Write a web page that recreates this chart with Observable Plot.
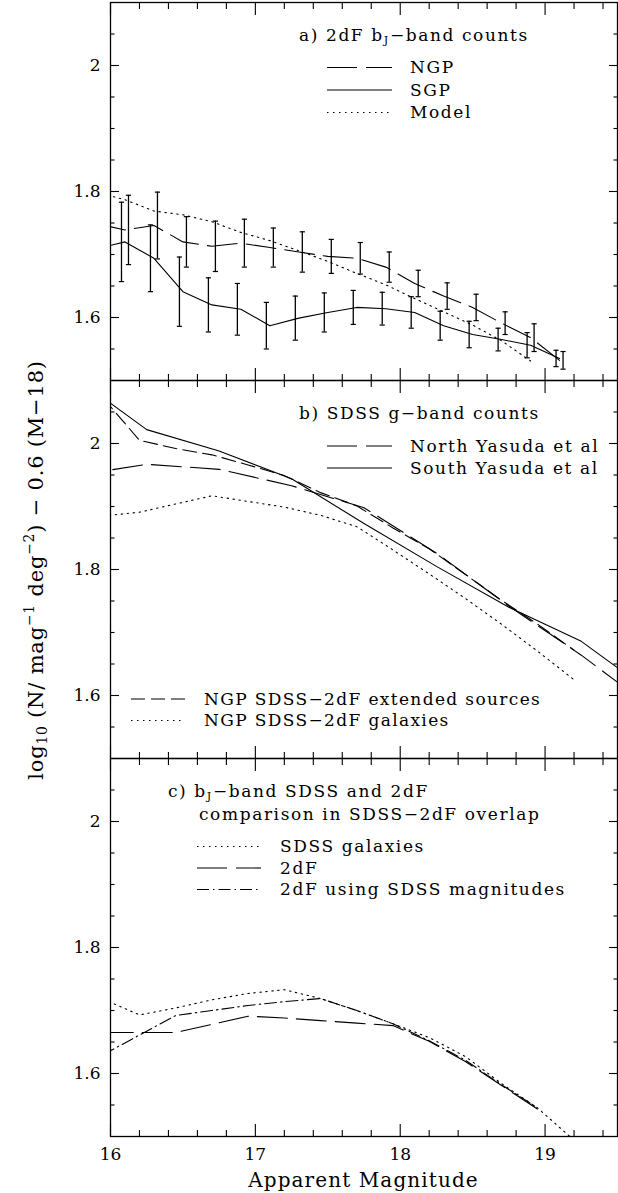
<!DOCTYPE html>
<html>
<head>
<meta charset="utf-8">
<script src="https://cdn.jsdelivr.net/npm/d3@7"></script>
<script src="https://cdn.jsdelivr.net/npm/@observablehq/plot@0.6"></script>
<style>
  html, body { margin: 0; padding: 0; background: #fff; }
  #chart svg { display: block; }
</style>
</head>
<body>
<div id="chart"></div>
<script>
// ---------- Axis ticks ----------
const xMajor = [16, 17, 18, 19];
const xTickLabels = ["16", "17", "18", "19"];
const xMinor = [16.2, 16.4, 16.6, 16.8, 17.2, 17.4, 17.6, 17.8, 18.2, 18.4, 18.6, 18.8, 19.2, 19.4];
const yMajor = [1.6, 1.8, 2.0];
const yTickLabels = ["1.6", "1.8", "2"];
const yMinor = [1.55, 1.65, 1.7, 1.75, 1.85, 1.9, 1.95, 2.05];

// ---------- Panel a: 2dF bJ-band counts ----------
const binsA   = [15.9, 16.1, 16.3, 16.5, 16.7, 16.9, 17.1, 17.3, 17.5, 17.7, 17.9, 18.1, 18.3, 18.5, 18.7, 18.9, 19.1];
const ngpA    = [1.749, 1.739, 1.746, 1.720, 1.713, 1.718, 1.711, 1.704, 1.697, 1.694, 1.680, 1.654, 1.634, 1.616, 1.591, 1.568, 1.532];
const ngpErrA = [null, 0.055, 0.053, 0.040, 0.040, 0.038, 0.031, 0.032, 0.027, 0.025, 0.024, 0.021, 0.021, 0.021, 0.018, 0.022, 0.014];
const sgpA    = [1.709, 1.720, 1.694, 1.641, 1.620, 1.613, 1.587, 1.599, 1.608, 1.616, 1.614, 1.608, 1.587, 1.573, 1.565, 1.556, 1.535];
const sgpErrA = [null, 0.063, 0.053, 0.055, 0.043, 0.041, 0.037, 0.035, 0.031, 0.027, 0.026, 0.025, 0.023, 0.021, 0.018, 0.020, 0.013];
const modelBinsA = [15.9, 16.1, 16.3, 16.5, 16.7, 16.9, 17.1, 17.3, 17.5, 17.7, 17.9, 18.1, 18.3, 18.5, 18.7, 18.9];
const modelA     = [1.799, 1.787, 1.769, 1.763, 1.752, 1.735, 1.722, 1.706, 1.689, 1.670, 1.652, 1.630, 1.609, 1.588, 1.563, 1.531];

// ---------- Panel b: SDSS g-band counts ----------
const binsYasuda  = [15.75, 16.25, 16.75, 17.25, 17.75, 18.25, 18.75, 19.25, 19.75];
const northYasuda = [1.949, 1.967, 1.959, 1.933, 1.898, 1.826, 1.742, 1.664, 1.578];
const southYasuda = [2.106, 2.022, 1.988, 1.944, 1.873, 1.805, 1.740, 1.686, 1.602];
const binsOverlap = [15.95, 16.2, 16.45, 16.7, 16.95, 17.2, 17.45, 17.7, 17.95, 18.2, 18.45, 18.7, 18.95, 19.2];
const extendedB   = [2.072, 2.005, 1.992, 1.982, 1.966, 1.949, 1.922, 1.901, 1.866, 1.833, 1.792, 1.751, 1.713, 1.672];
const galaxiesB   = [1.885, 1.891, 1.904, 1.917, 1.908, 1.899, 1.886, 1.868, 1.831, 1.793, 1.754, 1.713, 1.670, 1.625];

// ---------- Panel c: bJ-band SDSS and 2dF comparison ----------
const sdssGalC   = [1.718, 1.693, 1.704, 1.717, 1.727, 1.733, 1.719, 1.700, 1.679, 1.657, 1.627, 1.584, 1.545, 1.494];
const twoDFC     = [1.665, 1.665, 1.665, 1.678, 1.691, 1.688, 1.684, 1.680, 1.676, 1.651, 1.619, 1.581, 1.543];
const twoDFSdssC = [1.630, 1.661, 1.692, 1.700, 1.708, 1.714, 1.719, 1.700, 1.679, 1.652, 1.621, 1.582, 1.545];

// ---------- styles ----------
const DASH_LONG = "30,9";
const DASH_SHORT = "14,6";
const DOTTED = "1.5,4.5";
const DASH_DOT = "12,4,1.5,4";
const INK = "black";

function series(panel, xs, ys, errs) {
  return xs.map((x, i) => ({panel, x, y: ys[i], err: errs ? errs[i] : null})).filter(d => d.y != null);
}

const aNGP = series("a", binsA, ngpA, ngpErrA);
const aSGP = series("a", binsA, sgpA, sgpErrA);
const aModel = series("a", modelBinsA, modelA);
const bNorth = series("b", binsYasuda, northYasuda);
const bSouth = series("b", binsYasuda, southYasuda);
const bExt = series("b", binsOverlap, extendedB);
const bGal = series("b", binsOverlap, galaxiesB);
const cGal = series("c", binsOverlap, sdssGalC);
const c2dF = series("c", binsOverlap, twoDFC);
const c2dFS = series("c", binsOverlap, twoDFSdssC);

const lineMark = (data, dash) => Plot.line(data, {
  x: "x", y: "y", fy: "panel", stroke: INK, strokeWidth: 1.1,
  strokeDasharray: dash, clip: true
});

const capSymbol = {
  draw(ctx, size) {
    const r = Math.sqrt(size / Math.PI);
    ctx.moveTo(-r, 0); ctx.lineTo(r, 0);
  }
};

function errorBars(data, dx) {
  const d = data.filter(v => v.err != null);
  return [
    Plot.ruleX(d, {x: "x", y1: v => v.y - v.err, y2: v => v.y + v.err, fy: "panel", dx, stroke: INK, strokeWidth: 1.3, clip: true}),
    Plot.dot(d, {x: "x", y: v => v.y - v.err, fy: "panel", dx, symbol: capSymbol, r: 2.6, stroke: INK, strokeWidth: 1.2, fill: "none", clip: true}),
    Plot.dot(d, {x: "x", y: v => v.y + v.err, fy: "panel", dx, symbol: capSymbol, r: 2.6, stroke: INK, strokeWidth: 1.2, fill: "none", clip: true})
  ];
}

const tickOpts = {facetAnchor: null, fill: "none", stroke: INK, strokeWidth: 1.1};

const chart = Plot.plot({
  width: 618,
  height: 1193,
  marginLeft: 110,
  marginRight: 1,
  marginTop: 1,
  marginBottom: 56,
  style: {fontFamily: "'DejaVu Serif', serif", fontSize: "17px", color: INK, background: "white"},
  x: {domain: [16, 19.5]},
  y: {domain: [1.5, 2.1]},
  fy: {domain: ["a", "b", "c"], padding: 0, axis: null},
  marks: [
    // panel a
    lineMark(aModel, DOTTED),
    lineMark(aNGP, DASH_LONG),
    lineMark(aSGP, null),
    ...errorBars(aSGP, -3.5),
    ...errorBars(aNGP, 3.5),
    // panel b
    lineMark(bGal, DOTTED),
    lineMark(bExt, DASH_SHORT),
    lineMark(bNorth, DASH_LONG),
    lineMark(bSouth, null),
    // panel c
    lineMark(cGal, DOTTED),
    lineMark(c2dF, DASH_LONG),
    lineMark(c2dFS, DASH_DOT),
    // frames and inward ticks
    Plot.frame({stroke: INK, strokeWidth: 1.3}),
    Plot.axisX(xMinor, {anchor: "bottom", tickSize: -6, ...tickOpts}),
    Plot.axisX(xMajor, {anchor: "bottom", tickSize: -12, ...tickOpts}),
    Plot.axisX(xMinor, {anchor: "top", tickSize: -6, ...tickOpts}),
    Plot.axisX(xMajor, {anchor: "top", tickSize: -12, ...tickOpts}),
    Plot.axisY(yMinor, {anchor: "left", tickSize: -4.5, ...tickOpts}),
    Plot.axisY(yMajor, {anchor: "left", tickSize: -9, ...tickOpts}),
    Plot.axisY(yMinor, {anchor: "right", tickSize: -4.5, ...tickOpts}),
    Plot.axisY(yMajor, {anchor: "right", tickSize: -9, ...tickOpts}),
    // tick labels
    Plot.axisX(xMajor, {anchor: "bottom", tickSize: 0, tickPadding: 11, fontSize: 17, fill: INK, label: null,
      tickFormat: d => xTickLabels[xMajor.findIndex(t => Math.abs(t - d) < 1e-9)]}),
    Plot.axisY(yMajor, {anchor: "left", tickSize: 0, tickPadding: 10, fontSize: 17, fill: INK, label: null,
      tickFormat: d => yTickLabels[yMajor.findIndex(t => Math.abs(t - d) < 1e-9)]})
  ]
});

document.getElementById("chart").appendChild(chart);

// ---------- legends & axis titles (overlay text) ----------
const svg = d3.select(chart);
const g = svg.append("g").attr("font-family", "'DejaVu Serif', serif").attr("fill", INK)
  .attr("text-anchor", "start");

function rich(x, y, parts, size, opts = {}) {
  const t = g.append("text").attr("x", x).attr("y", y).attr("font-size", size)
    .attr("text-anchor", opts.anchor || "start")
    .attr("letter-spacing", opts.ls != null ? opts.ls : 0);
  if (opts.transform) t.attr("transform", opts.transform);
  let shift = 0;
  for (const p of parts) {
    const span = t.append("tspan");
    if (typeof p === "string") {
      if (shift) { span.attr("dy", -shift); shift = 0; }
      span.text(p);
    } else {
      const s = p.sub ? 0.2 * size : -0.42 * size;
      span.attr("dy", s - shift).attr("font-size", 0.66 * size).text(p.t);
      shift = s;
    }
  }
  return t;
}

function sample(x1, x2, y, dash) {
  g.append("line").attr("x1", x1).attr("x2", x2).attr("y1", y).attr("y2", y)
    .attr("stroke", INK).attr("stroke-width", 1.1)
    .attr("stroke-dasharray", dash || null);
}

const FS = 17, LS = 1.6;

// panel a legend
rich(299, 41, ["a) 2dF b", {t: "J", sub: true}, "\u2212band counts"], FS, {ls: LS});
const legendA = [["NGP", DASH_LONG], ["SGP", null], ["Model", DOTTED]];
legendA.forEach(([label, dash], i) => {
  sample(327, 392, 67.5 + i * 22.5, dash);
  rich(410, 73 + i * 22.5, [label], FS, {ls: LS});
});

// panel b legends
rich(299, 419, ["b) SDSS g\u2212band counts"], FS, {ls: LS});
const legendB1 = [["North Yasuda et al", DASH_LONG], ["South Yasuda et al", null]];
legendB1.forEach(([label, dash], i) => {
  sample(327, 392, 446 + i * 22, dash);
  rich(410, 451.5 + i * 22, [label], FS, {ls: LS});
});
const legendB2 = [["NGP SDSS\u22122dF extended sources", DASH_SHORT], ["NGP SDSS\u22122dF galaxies", DOTTED]];
legendB2.forEach(([label, dash], i) => {
  sample(131, 185, 699 + i * 21.5, dash);
  rich(204, 704.5 + i * 21.5, [label], FS, {ls: LS * 0.85});
});

// panel c legend
rich(168, 796.5, ["c) b", {t: "J", sub: true}, "\u2212band SDSS and 2dF"], FS, {ls: LS});
rich(199, 819.5, ["comparison in SDSS\u22122dF overlap"], FS, {ls: LS});
const legendC = [["SDSS galaxies", DOTTED], ["2dF", DASH_LONG], ["2dF using SDSS magnitudes", DASH_DOT]];
legendC.forEach(([label, dash], i) => {
  sample(197, 261, 846.5 + i * 21.5, dash);
  rich(280, 852 + i * 21.5, [label], FS, {ls: LS});
});

// axis titles
rich(363.5, 1187, ["Apparent Magnitude"], 20, {anchor: "middle", ls: 1.1});
rich(43, 570, ["log", {t: "10", sub: true}, " (N/ mag", {t: "\u22121"}, " deg", {t: "\u22122"}, ") \u2212 0.6 (M\u221218)"], 21,
  {anchor: "middle", ls: 0.8, transform: "rotate(-90, 43, 570)"});
</script>
</body>
</html>
